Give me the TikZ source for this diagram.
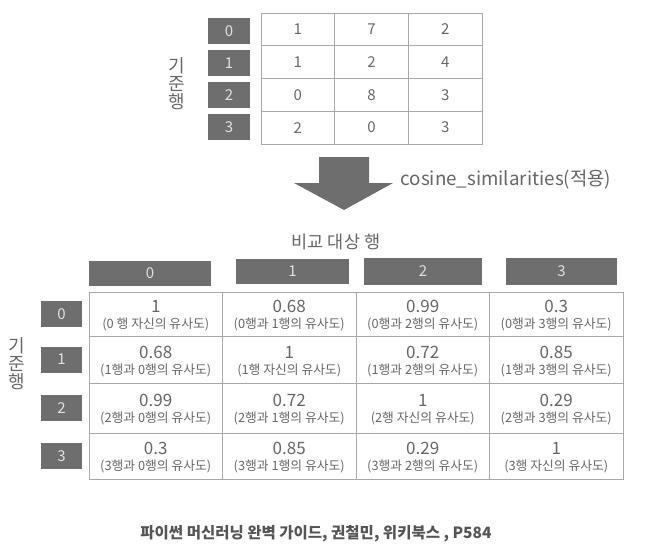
\documentclass[tikz,border=0pt]{standalone}
\usepackage{fontspec}
\setmainfont{Noto Sans CJK KR}
\usetikzlibrary{positioning}
\definecolor{boxgray}{HTML}{6E6E6E}
\definecolor{linegray}{HTML}{A8A8A8}
\definecolor{txtgray}{HTML}{666666}
\definecolor{capgray}{HTML}{555555}
\tikzset{
    gridline/.style={draw=linegray, line width=0.9pt},
    boxtxt/.style={text=white!88!black, font=\fontsize{15}{15}\selectfont},
    numtxt/.style={text=txtgray, font=\fontsize{15}{15}\selectfont},
    valtxt/.style={text=txtgray, inner sep=0pt, font=\fontsize{17}{17}\selectfont},
    subtxt/.style={text=txtgray, inner sep=0pt, font=\fontsize{12.8}{13}\selectfont},
    sidetxt/.style={text=txtgray, align=center, font=\fontsize{18}{18}\selectfont},
    labtxt/.style={text=txtgray, font=\fontsize{17.5}{18}\selectfont}
}
\begin{document}
\begin{tikzpicture}[x=1pt, y=-1pt]
    \useasboundingbox (0,0) rectangle (651,552);
    \foreach \vals [count=\rw from 0] in {{1,7,2},{1,2,4},{0,8,3},{2,0,3}}{
        \fill[boxgray] (208,{18+32*\rw}) rectangle ++(42,26) node[midway, boxtxt] (tr\rw) {\rw};
        \foreach \v [count=\cl from 0] in \vals{
            \draw[gridline] ({261+73.7*\cl},{13+32.75*\rw}) rectangle ++(73.7,32.75) node[midway, numtxt] (t-\rw-\cl) {\v};
        }
    }
    \node[sidetxt] (topside) at (177,84) {기\\준\\행};
    \fill[boxgray] (319,157) -- (369,157) -- (369,183) -- (393,183) -- (344,210) -- (294,183) -- (319,183) -- cycle;
    \node[anchor=west, text=txtgray, font=\fontsize{18.8}{19}\selectfont] (apply) at (397,180) {cosine\_similarities(적용)};
    \node[labtxt] (target) at (336,242) {비교 대상 행};
    \foreach \xa/\xb/\ya/\yb [count=\cl from 0] in {89/211/261/286, 236/349/259/284, 364/482/258/285, 506/617/258/285}{
        \fill[boxgray] (\xa,\ya) rectangle (\xb,\yb) node[midway, boxtxt] (sc\cl) {\cl};
    }
    \foreach \ya/\yb/\vals [count=\rw from 0] in {292/336/{1,0.68,0.99,0.3},336/383/{0.68,1,0.72,0.85},383/433/{0.99,0.72,1,0.29},433/479/{0.3,0.85,0.29,1}}{
        \fill[boxgray] (41,{(\ya+\yb)/2-13}) rectangle ++(41,26) node[midway, boxtxt] (sr\rw) {\rw};
        \foreach \v [count=\cl from 0] in \vals{
            \draw[gridline] ({89+133.5*\cl},\ya) rectangle ++(133.5,{\yb-\ya}) node[midway] (s-\rw-\cl) {};
            \node[valtxt, above=1pt of s-\rw-\cl.center] (v-\rw-\cl) {\v};
            \node[subtxt, below=4pt of s-\rw-\cl.center] (d-\rw-\cl) {\ifnum\rw=\cl (\rw\ifnum\rw=0\ \fi 행 자신의 유사도)\else (\rw{}행과 \cl{}행의 유사도)\fi};
        }
    }
    \node[sidetxt] (botside) at (17,364) {기\\준\\행};
    \node[text=capgray, font=\bfseries\fontsize{15.5}{16}\selectfont] (source) at (316,534) {파이썬 머신러닝 완벽 가이드, 권철민, 위키북스 , P584};
\end{tikzpicture}
\end{document}
